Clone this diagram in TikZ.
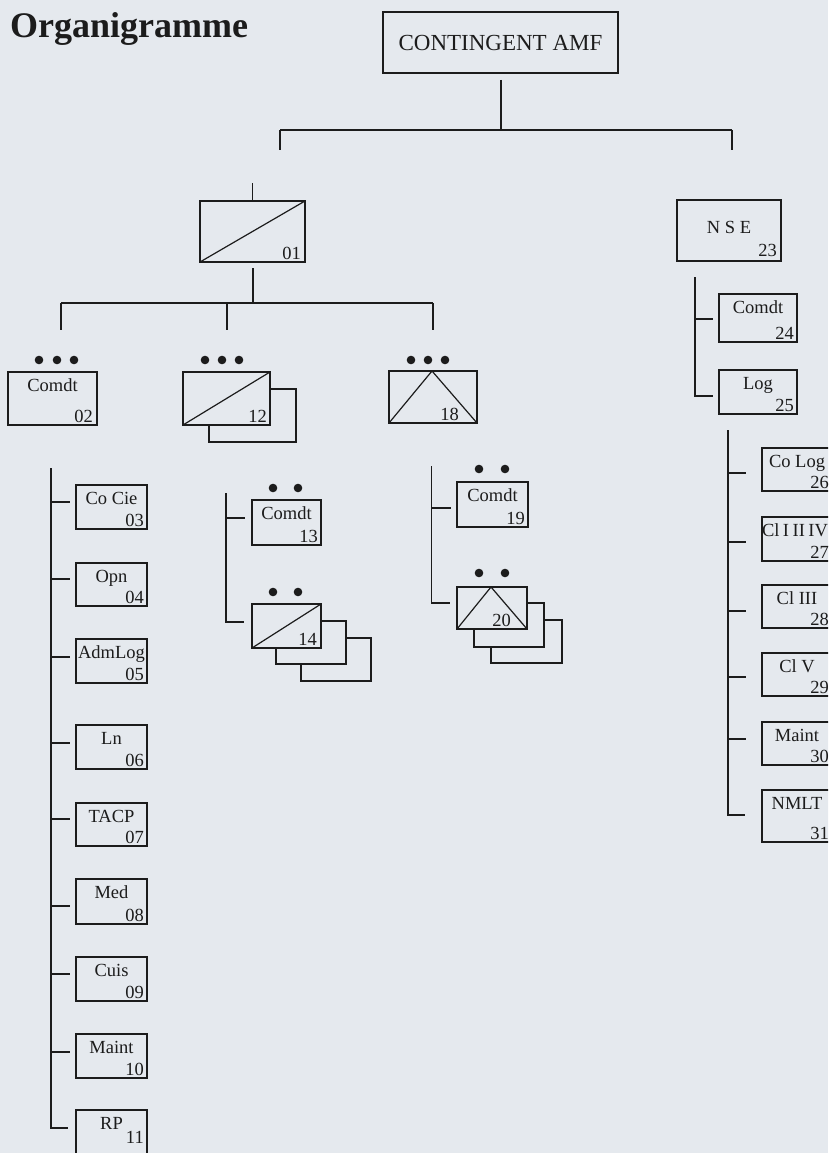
\documentclass[tikz,border=0pt]{standalone}
\usepackage{fontspec}
\setmainfont{Liberation Serif}
\usetikzlibrary{fit,calc}
\definecolor{bg}{RGB}{229,233,238}
\definecolor{ink}{RGB}{28,28,28}
\tikzset{
  obox/.style={draw=ink, line width=1.2pt, fill=bg, inner sep=0pt, outer sep=0pt},
  lbl/.style={inner sep=0pt, text=ink, font=\fontsize{18.5}{20}\selectfont},
  num/.style={inner sep=0pt, text=ink, font=\fontsize{18.5}{20}\selectfont},
  conn/.style={draw=ink, line width=1.4pt},
  mainconn/.style={draw=ink, line width=2pt},
  diag/.style={draw=ink, line width=1.2pt},
  dotmark/.style={fill=ink},
}
% optional: number offset from right; name, x1,y1,x2,y2, label, number
\newcommand{\orgbox}[8][3]{%
  \node[obox, fit={(#3,#4) (#5,#6)}] (#2) {};
  \node[lbl, anchor=base] (#2l) at ([yshift=-19pt]#2.north) {#7};
  \node[num, anchor=base east] (#2n) at ([shift={(-#1pt,3pt)}]#2.south east) {#8};
}
\newcommand{\shadowbox}[5]{%
  \node[obox, fit={(#2,#3) (#4,#5)}] (#1) {};
}
% tick: node, yshift, spine coordinate, gap
\newcommand{\orgtick}[4]{%
  \draw[conn] ([yshift=#2pt]#1.west -| #3) -- ([xshift=-#4pt,yshift=#2pt]#1.west);
}
\begin{document}
\begin{tikzpicture}[x=1pt,y=-1pt]
\useasboundingbox (0,0) rectangle (828,1153);
\fill[bg] (0,0) rectangle (828,1153);
\clip (0,0) rectangle (828,1153);

% title
\node[anchor=base west, inner sep=0pt, text=ink, font=\fontsize{36}{40}\selectfont\bfseries] (title) at (10,38) {Organigramme};

% top box
\node[obox, fit={(383,12) (618,73)}] (cont) {};
\node[inner sep=0pt, text=ink, font=\fontsize{23}{25}\selectfont] (contl) at (cont.center) {CONTINGENT AMF};

% top connectors
\coordinate (jTopL) at (280,130);
\coordinate (jTopR) at (732,130);
\draw[mainconn] ([yshift=-7pt]cont.south) -- (cont.south |- jTopL);
\draw[mainconn] (jTopL) -- (jTopR);
\draw[mainconn] (jTopL) -- ++(0,20);
\draw[mainconn] (jTopR) -- ++(0,20);

% box 01
\orgbox[4]{b01}{200}{201}{305}{262}{}{01}
\draw[diag] (b01.south west) -- (b01.north east);
\draw[conn] ([yshift=18pt]b01.north) -- (b01.north);

\coordinate (j1L) at (61,303);
\coordinate (j1R) at (433,303);
\draw[mainconn] ([yshift=-6pt]b01.south) -- (b01.south |- j1L);
\draw[mainconn] (j1L) -- (j1R);
\draw[mainconn] (j1L) -- ++(0,27);
\draw[mainconn] (226.5,303) -- ++(0,27);
\draw[mainconn] (j1R) -- ++(0,27);

% level 2
\orgbox[4]{b02}{8}{372}{97}{425}{Comdt}{02}
\shadowbox{b12s}{209}{389}{296}{442}
\orgbox[3]{b12}{183}{372}{270}{425}{}{12}
\draw[diag] (b12.south west) -- (b12.north east);
\orgbox[18]{b18}{389}{371}{477}{423}{}{18}
\draw[diag] (b18.south west) -- ([xshift=-1pt]b18.north) -- (b18.south east);

% dots
\foreach \x in {39,57,74} \fill[dotmark] (\x,360) circle (4.3pt);
\foreach \x in {205,222,239} \fill[dotmark] (\x,360) circle (4.3pt);
\foreach \x in {411,428,445} \fill[dotmark] (\x,360) circle (4.3pt);

% left column
\coordinate (sL) at (51,468);
\orgbox{b03}{76}{485}{147}{529}{Co Cie}{03}
\orgbox{b04}{76}{563}{147}{606}{Opn}{04}
\orgbox{b05}{76}{639}{147}{683}{AdmLog}{05}
\orgbox{b06}{76}{725}{147}{769}{Ln}{06}
\orgbox{b07}{76}{803}{147}{846}{TACP}{07}
\orgbox{b08}{76}{879}{147}{924}{Med}{08}
\orgbox{b09}{76}{957}{147}{1001}{Cuis}{09}
\orgbox{b10}{76}{1034}{147}{1078}{Maint}{10}
\node[obox, fit={(76,1110) (147,1162)}] (b11) {};
\node[lbl, anchor=base] (b11l) at ([yshift=-19pt]b11.north) {RP};
\node[num, anchor=base east] (b11n) at ([shift={(-3pt,19pt)}]b11.south east) {11};
\draw[conn] (sL) -- (sL |- 0,1128) -- ([xshift=-8pt]b11.west |- 0,1128);
\orgtick{b03}{5}{sL}{6}
\orgtick{b04}{5.5}{sL}{6}
\orgtick{b05}{4}{sL}{6}
\orgtick{b06}{4}{sL}{6}
\orgtick{b07}{5.5}{sL}{6}
\orgtick{b08}{-4.5}{sL}{6}
\orgtick{b09}{5}{sL}{6}
\orgtick{b10}{4}{sL}{6}

% under 12
\coordinate (s12) at (226,493);
\orgbox{b13}{252}{500}{321}{545}{Comdt}{13}
\shadowbox{b14s2}{301}{638}{371}{681}
\shadowbox{b14s1}{276}{621}{346}{664}
\orgbox[4]{b14}{252}{604}{321}{648}{}{14}
\draw[diag] (b14.south west) -- (b14.north east);
\draw[conn] (s12) -- ([yshift=4pt]b14.west -| s12) -- ([xshift=-8pt,yshift=4pt]b14.west);
\orgtick{b13}{4.5}{s12}{7}
\foreach \x in {273,298} {\fill[dotmark] (\x,488) circle (4.3pt); \fill[dotmark] (\x,592) circle (4.3pt);}

% under 18
\coordinate (s18) at (431.5,466);
\orgbox{b19}{457}{482}{528}{527}{Comdt}{19}
\shadowbox{b20s2}{491}{620}{562}{663}
\shadowbox{b20s1}{474}{603}{544}{647}
\orgbox[16]{b20}{457}{587}{527}{629}{}{20}
\draw[diag] (b20.south west) -- ([xshift=-1pt]b20.north) -- (b20.south east);
\draw[conn] (s18) -- ([yshift=5pt]b20.west -| s18) -- ([xshift=-7pt,yshift=5pt]b20.west);
\orgtick{b19}{-3.5}{s18}{6}
\foreach \x in {479,505} {\fill[dotmark] (\x,469) circle (4.3pt); \fill[dotmark] (\x,573) circle (4.3pt);}

% NSE
\node[obox, fit={(677,200) (781,261)}] (nse) {};
\node[lbl, anchor=base] (nsel) at ([yshift=-33pt]nse.north) {N S E};
\node[num, anchor=base east] (nsen) at ([shift={(-4pt,5pt)}]nse.south east) {23};

\coordinate (sN) at (695,277);
\orgbox{b24}{719}{294}{797}{342}{Comdt}{24}
\orgbox{b25}{719}{370}{797}{414}{Log}{25}
\draw[conn] (sN) -- ([yshift=-4pt]b25.west -| sN) -- ([xshift=-6pt,yshift=-4pt]b25.west);
\orgtick{b24}{-1}{sN}{6}

% right column
\coordinate (sR) at (728,430);
\orgbox{b26}{762}{448}{832}{491}{Co Log}{26}
\orgbox{b27}{762}{517}{832}{561}{\spaceskip=3.5pt Cl I II IV\kern4pt}{27}
\orgbox{b28}{762}{585}{832}{628}{Cl III}{28}
\orgbox{b29}{762}{653}{832}{696}{Cl V}{29}
\orgbox{b30}{762}{722}{832}{765}{Maint}{30}
\orgbox{b31}{762}{790}{832}{842}{NMLT}{31}
\draw[conn] (sR) -- ([yshift=1pt]b31.west -| sR) -- ([xshift=-17pt,yshift=1pt]b31.west);
\orgtick{b26}{-3.5}{sR}{16}
\orgtick{b27}{-3}{sR}{16}
\orgtick{b28}{-4.5}{sR}{16}
\orgtick{b29}{-2.5}{sR}{16}
\orgtick{b30}{4.5}{sR}{16}
\end{tikzpicture}
\end{document}
